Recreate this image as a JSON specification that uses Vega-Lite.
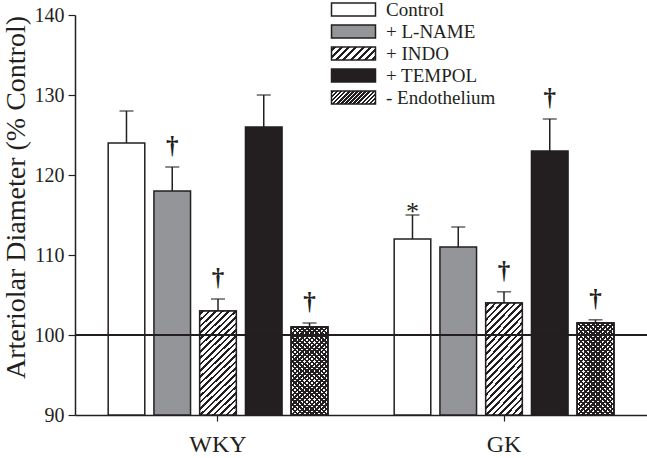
{
  "$schema": "https://vega.github.io/schema/vega-lite/v6.json",
  "width": 572,
  "height": 400,
  "autosize": {"type": "none"},
  "padding": {"left": 75, "top": 15, "right": 0, "bottom": 43},
  "config": {
    "view": {"stroke": null},
    "font": "Liberation Serif",
    "legend": {"labelFont": "Liberation Serif", "labelFontSize": 19, "labelColor": "#231f20"},
    "axis": {"labelFont": "Liberation Serif", "titleFont": "Liberation Serif", "labelColor": "#231f20", "titleColor": "#231f20", "domainColor": "#231f20", "tickColor": "#231f20", "grid": false}
  },
  "params": [
    {"name": "gradIndoLeg", "value": {"gradient": "linear", "x1": 0, "y1": 0, "x2": 1.1927, "y2": 0.3578, "stops": [
      {"offset": 0.0375, "color": "#ffffff"}, {"offset": 0.0375, "color": "#231f20"}, {"offset": 0.0875, "color": "#231f20"}, {"offset": 0.0875, "color": "#ffffff"},
      {"offset": 0.1625, "color": "#ffffff"}, {"offset": 0.1625, "color": "#231f20"}, {"offset": 0.2125, "color": "#231f20"}, {"offset": 0.2125, "color": "#ffffff"},
      {"offset": 0.2875, "color": "#ffffff"}, {"offset": 0.2875, "color": "#231f20"}, {"offset": 0.3375, "color": "#231f20"}, {"offset": 0.3375, "color": "#ffffff"},
      {"offset": 0.4125, "color": "#ffffff"}, {"offset": 0.4125, "color": "#231f20"}, {"offset": 0.4625, "color": "#231f20"}, {"offset": 0.4625, "color": "#ffffff"},
      {"offset": 0.5375, "color": "#ffffff"}, {"offset": 0.5375, "color": "#231f20"}, {"offset": 0.5875, "color": "#231f20"}, {"offset": 0.5875, "color": "#ffffff"},
      {"offset": 0.6625, "color": "#ffffff"}, {"offset": 0.6625, "color": "#231f20"}, {"offset": 0.7125, "color": "#231f20"}, {"offset": 0.7125, "color": "#ffffff"},
      {"offset": 0.7875, "color": "#ffffff"}, {"offset": 0.7875, "color": "#231f20"}, {"offset": 0.8375, "color": "#231f20"}, {"offset": 0.8375, "color": "#ffffff"},
      {"offset": 0.9125, "color": "#ffffff"}, {"offset": 0.9125, "color": "#231f20"}, {"offset": 0.9625, "color": "#231f20"}, {"offset": 0.9625, "color": "#ffffff"}
    ]}},
    {"name": "gradEndoLeg", "value": {"gradient": "linear", "x1": 0, "y1": 0, "x2": 1.1927, "y2": 0.3578, "stops": [
      {"offset": 0.0143, "color": "#ffffff"}, {"offset": 0.0143, "color": "#231f20"}, {"offset": 0.0571, "color": "#231f20"}, {"offset": 0.0571, "color": "#ffffff"},
      {"offset": 0.0857, "color": "#ffffff"}, {"offset": 0.0857, "color": "#231f20"}, {"offset": 0.1286, "color": "#231f20"}, {"offset": 0.1286, "color": "#ffffff"},
      {"offset": 0.1571, "color": "#ffffff"}, {"offset": 0.1571, "color": "#231f20"}, {"offset": 0.2000, "color": "#231f20"}, {"offset": 0.2000, "color": "#ffffff"},
      {"offset": 0.2286, "color": "#ffffff"}, {"offset": 0.2286, "color": "#231f20"}, {"offset": 0.2714, "color": "#231f20"}, {"offset": 0.2714, "color": "#ffffff"},
      {"offset": 0.3000, "color": "#ffffff"}, {"offset": 0.3000, "color": "#231f20"}, {"offset": 0.3429, "color": "#231f20"}, {"offset": 0.3429, "color": "#ffffff"},
      {"offset": 0.3714, "color": "#ffffff"}, {"offset": 0.3714, "color": "#231f20"}, {"offset": 0.4143, "color": "#231f20"}, {"offset": 0.4143, "color": "#ffffff"},
      {"offset": 0.4429, "color": "#ffffff"}, {"offset": 0.4429, "color": "#231f20"}, {"offset": 0.4857, "color": "#231f20"}, {"offset": 0.4857, "color": "#ffffff"},
      {"offset": 0.5143, "color": "#ffffff"}, {"offset": 0.5143, "color": "#231f20"}, {"offset": 0.5571, "color": "#231f20"}, {"offset": 0.5571, "color": "#ffffff"},
      {"offset": 0.5857, "color": "#ffffff"}, {"offset": 0.5857, "color": "#231f20"}, {"offset": 0.6286, "color": "#231f20"}, {"offset": 0.6286, "color": "#ffffff"},
      {"offset": 0.6571, "color": "#ffffff"}, {"offset": 0.6571, "color": "#231f20"}, {"offset": 0.7000, "color": "#231f20"}, {"offset": 0.7000, "color": "#ffffff"},
      {"offset": 0.7286, "color": "#ffffff"}, {"offset": 0.7286, "color": "#231f20"}, {"offset": 0.7714, "color": "#231f20"}, {"offset": 0.7714, "color": "#ffffff"},
      {"offset": 0.8000, "color": "#ffffff"}, {"offset": 0.8000, "color": "#231f20"}, {"offset": 0.8429, "color": "#231f20"}, {"offset": 0.8429, "color": "#ffffff"},
      {"offset": 0.8714, "color": "#ffffff"}, {"offset": 0.8714, "color": "#231f20"}, {"offset": 0.9143, "color": "#231f20"}, {"offset": 0.9143, "color": "#ffffff"},
      {"offset": 0.9429, "color": "#ffffff"}, {"offset": 0.9429, "color": "#231f20"}, {"offset": 0.9857, "color": "#231f20"}, {"offset": 0.9857, "color": "#ffffff"}
    ]}}
  ],
  "data": {
    "values": [
      {"group": "WKY", "treatment": "Control", "value": 124, "err": 128, "mark": ""},
      {"group": "WKY", "treatment": "+ L-NAME", "value": 118, "err": 121, "mark": "†"},
      {"group": "WKY", "treatment": "+ INDO", "value": 103, "err": 104.5, "mark": "†"},
      {"group": "WKY", "treatment": "+ TEMPOL", "value": 126, "err": 130, "mark": ""},
      {"group": "WKY", "treatment": "- Endothelium", "value": 101, "err": 101.5, "mark": "†"},
      {"group": "GK", "treatment": "Control", "value": 112, "err": 115, "mark": "*"},
      {"group": "GK", "treatment": "+ L-NAME", "value": 111, "err": 113.5, "mark": ""},
      {"group": "GK", "treatment": "+ INDO", "value": 104, "err": 105.4, "mark": "†"},
      {"group": "GK", "treatment": "+ TEMPOL", "value": 123, "err": 127, "mark": "†"},
      {"group": "GK", "treatment": "- Endothelium", "value": 101.5, "err": 101.9, "mark": "†"}
    ]
  },
  "layer": [
    {
      "mark": {"type": "bar", "strokeWidth": 1.5},
      "encoding": {
        "x": {"field": "group", "type": "nominal", "sort": ["WKY", "GK"], "scale": {"paddingInner": 0.2, "paddingOuter": 0.1},
          "axis": {"title": null, "labelAngle": 0, "labelFontSize": 24, "tickSize": 6, "domainWidth": 1.5, "tickWidth": 1.2, "labelPadding": 11}},
        "xOffset": {"field": "treatment", "type": "nominal", "scale": {"domain": ["Control", "+ L-NAME", "+ INDO", "+ TEMPOL", "- Endothelium"], "paddingInner": 0.2, "paddingOuter": 0.1}},
        "y": {"field": "value", "type": "quantitative", "scale": {"domain": [90, 140], "nice": false, "zero": false},
          "axis": {"title": "Arteriolar Diameter  (% Control)", "titleFontSize": 28, "titleFontWeight": "normal", "titlePadding": 4, "titleY": 182, "values": [90, 100, 110, 120, 130, 140], "labelFontSize": 20, "tickSize": 7, "labelPadding": 4, "domainWidth": 1.5, "tickWidth": 1.2}},
        "y2": {"datum": 90},
        "stroke": {"field": "treatment", "type": "nominal",
          "scale": {"domain": ["Control", "+ L-NAME", "+ INDO", "+ TEMPOL", "- Endothelium"], "range": ["#231f20", "#231f20", "#231f20", "#231f20", "#231f20"]}},
        "fill": {"field": "treatment", "type": "nominal",
          "scale": {"domain": ["Control", "+ L-NAME", "+ INDO", "+ TEMPOL", "- Endothelium"],
            "range": ["#ffffff", "#939598", {"expr": "gradIndoLeg"}, "#231f20", {"expr": "gradEndoLeg"}]},
          "legend": {"orient": "none", "legendX": 269, "legendY": -15, "title": null, "symbolType": "M-3,-0.9H3V0.9H-3Z", "symbolSize": 215, "symbolStrokeColor": "#231f20", "symbolStrokeWidth": 1.5, "labelFont": "Liberation Serif", "labelFontSize": 19, "labelColor": "#231f20", "labelOffset": 23, "rowPadding": 1, "padding": 0}
        }
      }
    },
    {
      "transform": [{"filter": "datum.treatment === '+ INDO'"}],
      "mark": {"type": "bar", "stroke": "#231f20", "strokeWidth": 1.5,
        "fill": {"gradient": "linear", "x1": 0, "y1": 0, "x2": 0.407, "y2": 1.201, "stops": [
          {"offset": 0.0136, "color": "#ffffff"}, {"offset": 0.0136, "color": "#231f20"}, {"offset": 0.0318, "color": "#231f20"}, {"offset": 0.0318, "color": "#ffffff"},
          {"offset": 0.0591, "color": "#ffffff"}, {"offset": 0.0591, "color": "#231f20"}, {"offset": 0.0773, "color": "#231f20"}, {"offset": 0.0773, "color": "#ffffff"},
          {"offset": 0.1045, "color": "#ffffff"}, {"offset": 0.1045, "color": "#231f20"}, {"offset": 0.1227, "color": "#231f20"}, {"offset": 0.1227, "color": "#ffffff"},
          {"offset": 0.1500, "color": "#ffffff"}, {"offset": 0.1500, "color": "#231f20"}, {"offset": 0.1682, "color": "#231f20"}, {"offset": 0.1682, "color": "#ffffff"},
          {"offset": 0.1955, "color": "#ffffff"}, {"offset": 0.1955, "color": "#231f20"}, {"offset": 0.2136, "color": "#231f20"}, {"offset": 0.2136, "color": "#ffffff"},
          {"offset": 0.2409, "color": "#ffffff"}, {"offset": 0.2409, "color": "#231f20"}, {"offset": 0.2591, "color": "#231f20"}, {"offset": 0.2591, "color": "#ffffff"},
          {"offset": 0.2864, "color": "#ffffff"}, {"offset": 0.2864, "color": "#231f20"}, {"offset": 0.3045, "color": "#231f20"}, {"offset": 0.3045, "color": "#ffffff"},
          {"offset": 0.3318, "color": "#ffffff"}, {"offset": 0.3318, "color": "#231f20"}, {"offset": 0.3500, "color": "#231f20"}, {"offset": 0.3500, "color": "#ffffff"},
          {"offset": 0.3773, "color": "#ffffff"}, {"offset": 0.3773, "color": "#231f20"}, {"offset": 0.3955, "color": "#231f20"}, {"offset": 0.3955, "color": "#ffffff"},
          {"offset": 0.4227, "color": "#ffffff"}, {"offset": 0.4227, "color": "#231f20"}, {"offset": 0.4409, "color": "#231f20"}, {"offset": 0.4409, "color": "#ffffff"},
          {"offset": 0.4682, "color": "#ffffff"}, {"offset": 0.4682, "color": "#231f20"}, {"offset": 0.4864, "color": "#231f20"}, {"offset": 0.4864, "color": "#ffffff"},
          {"offset": 0.5136, "color": "#ffffff"}, {"offset": 0.5136, "color": "#231f20"}, {"offset": 0.5318, "color": "#231f20"}, {"offset": 0.5318, "color": "#ffffff"},
          {"offset": 0.5591, "color": "#ffffff"}, {"offset": 0.5591, "color": "#231f20"}, {"offset": 0.5773, "color": "#231f20"}, {"offset": 0.5773, "color": "#ffffff"},
          {"offset": 0.6045, "color": "#ffffff"}, {"offset": 0.6045, "color": "#231f20"}, {"offset": 0.6227, "color": "#231f20"}, {"offset": 0.6227, "color": "#ffffff"},
          {"offset": 0.6500, "color": "#ffffff"}, {"offset": 0.6500, "color": "#231f20"}, {"offset": 0.6682, "color": "#231f20"}, {"offset": 0.6682, "color": "#ffffff"},
          {"offset": 0.6955, "color": "#ffffff"}, {"offset": 0.6955, "color": "#231f20"}, {"offset": 0.7136, "color": "#231f20"}, {"offset": 0.7136, "color": "#ffffff"},
          {"offset": 0.7409, "color": "#ffffff"}, {"offset": 0.7409, "color": "#231f20"}, {"offset": 0.7591, "color": "#231f20"}, {"offset": 0.7591, "color": "#ffffff"},
          {"offset": 0.7864, "color": "#ffffff"}, {"offset": 0.7864, "color": "#231f20"}, {"offset": 0.8045, "color": "#231f20"}, {"offset": 0.8045, "color": "#ffffff"},
          {"offset": 0.8318, "color": "#ffffff"}, {"offset": 0.8318, "color": "#231f20"}, {"offset": 0.8500, "color": "#231f20"}, {"offset": 0.8500, "color": "#ffffff"},
          {"offset": 0.8773, "color": "#ffffff"}, {"offset": 0.8773, "color": "#231f20"}, {"offset": 0.8955, "color": "#231f20"}, {"offset": 0.8955, "color": "#ffffff"},
          {"offset": 0.9227, "color": "#ffffff"}, {"offset": 0.9227, "color": "#231f20"}, {"offset": 0.9409, "color": "#231f20"}, {"offset": 0.9409, "color": "#ffffff"},
          {"offset": 0.9682, "color": "#ffffff"}, {"offset": 0.9682, "color": "#231f20"}, {"offset": 0.9864, "color": "#231f20"}, {"offset": 0.9864, "color": "#ffffff"}
        ]}},
      "encoding": {
        "x": {"field": "group", "type": "nominal", "sort": ["WKY", "GK"]},
        "xOffset": {"field": "treatment", "type": "nominal"},
        "y": {"field": "value", "type": "quantitative"},
        "y2": {"datum": 90}
      }
    },
    {
      "transform": [{"filter": "datum.treatment === '- Endothelium'"}],
      "mark": {"type": "bar", "stroke": "#231f20", "strokeWidth": 1.5,
        "fill": {"gradient": "linear", "x1": 0, "y1": 0, "x2": 0.4909, "y2": 1.2071, "stops": [
          {"offset": 0.0096, "color": "#ffffff"}, {"offset": 0.0096, "color": "#231f20"}, {"offset": 0.0288, "color": "#231f20"}, {"offset": 0.0288, "color": "#ffffff"},
          {"offset": 0.0481, "color": "#ffffff"}, {"offset": 0.0481, "color": "#231f20"}, {"offset": 0.0673, "color": "#231f20"}, {"offset": 0.0673, "color": "#ffffff"},
          {"offset": 0.0865, "color": "#ffffff"}, {"offset": 0.0865, "color": "#231f20"}, {"offset": 0.1058, "color": "#231f20"}, {"offset": 0.1058, "color": "#ffffff"},
          {"offset": 0.1250, "color": "#ffffff"}, {"offset": 0.1250, "color": "#231f20"}, {"offset": 0.1442, "color": "#231f20"}, {"offset": 0.1442, "color": "#ffffff"},
          {"offset": 0.1635, "color": "#ffffff"}, {"offset": 0.1635, "color": "#231f20"}, {"offset": 0.1827, "color": "#231f20"}, {"offset": 0.1827, "color": "#ffffff"},
          {"offset": 0.2019, "color": "#ffffff"}, {"offset": 0.2019, "color": "#231f20"}, {"offset": 0.2212, "color": "#231f20"}, {"offset": 0.2212, "color": "#ffffff"},
          {"offset": 0.2404, "color": "#ffffff"}, {"offset": 0.2404, "color": "#231f20"}, {"offset": 0.2596, "color": "#231f20"}, {"offset": 0.2596, "color": "#ffffff"},
          {"offset": 0.2788, "color": "#ffffff"}, {"offset": 0.2788, "color": "#231f20"}, {"offset": 0.2981, "color": "#231f20"}, {"offset": 0.2981, "color": "#ffffff"},
          {"offset": 0.3173, "color": "#ffffff"}, {"offset": 0.3173, "color": "#231f20"}, {"offset": 0.3365, "color": "#231f20"}, {"offset": 0.3365, "color": "#ffffff"},
          {"offset": 0.3558, "color": "#ffffff"}, {"offset": 0.3558, "color": "#231f20"}, {"offset": 0.3750, "color": "#231f20"}, {"offset": 0.3750, "color": "#ffffff"},
          {"offset": 0.3942, "color": "#ffffff"}, {"offset": 0.3942, "color": "#231f20"}, {"offset": 0.4135, "color": "#231f20"}, {"offset": 0.4135, "color": "#ffffff"},
          {"offset": 0.4327, "color": "#ffffff"}, {"offset": 0.4327, "color": "#231f20"}, {"offset": 0.4519, "color": "#231f20"}, {"offset": 0.4519, "color": "#ffffff"},
          {"offset": 0.4712, "color": "#ffffff"}, {"offset": 0.4712, "color": "#231f20"}, {"offset": 0.4904, "color": "#231f20"}, {"offset": 0.4904, "color": "#ffffff"},
          {"offset": 0.5096, "color": "#ffffff"}, {"offset": 0.5096, "color": "#231f20"}, {"offset": 0.5288, "color": "#231f20"}, {"offset": 0.5288, "color": "#ffffff"},
          {"offset": 0.5481, "color": "#ffffff"}, {"offset": 0.5481, "color": "#231f20"}, {"offset": 0.5673, "color": "#231f20"}, {"offset": 0.5673, "color": "#ffffff"},
          {"offset": 0.5865, "color": "#ffffff"}, {"offset": 0.5865, "color": "#231f20"}, {"offset": 0.6058, "color": "#231f20"}, {"offset": 0.6058, "color": "#ffffff"},
          {"offset": 0.6250, "color": "#ffffff"}, {"offset": 0.6250, "color": "#231f20"}, {"offset": 0.6442, "color": "#231f20"}, {"offset": 0.6442, "color": "#ffffff"},
          {"offset": 0.6635, "color": "#ffffff"}, {"offset": 0.6635, "color": "#231f20"}, {"offset": 0.6827, "color": "#231f20"}, {"offset": 0.6827, "color": "#ffffff"},
          {"offset": 0.7019, "color": "#ffffff"}, {"offset": 0.7019, "color": "#231f20"}, {"offset": 0.7212, "color": "#231f20"}, {"offset": 0.7212, "color": "#ffffff"},
          {"offset": 0.7404, "color": "#ffffff"}, {"offset": 0.7404, "color": "#231f20"}, {"offset": 0.7596, "color": "#231f20"}, {"offset": 0.7596, "color": "#ffffff"},
          {"offset": 0.7788, "color": "#ffffff"}, {"offset": 0.7788, "color": "#231f20"}, {"offset": 0.7981, "color": "#231f20"}, {"offset": 0.7981, "color": "#ffffff"},
          {"offset": 0.8173, "color": "#ffffff"}, {"offset": 0.8173, "color": "#231f20"}, {"offset": 0.8365, "color": "#231f20"}, {"offset": 0.8365, "color": "#ffffff"},
          {"offset": 0.8558, "color": "#ffffff"}, {"offset": 0.8558, "color": "#231f20"}, {"offset": 0.8750, "color": "#231f20"}, {"offset": 0.8750, "color": "#ffffff"},
          {"offset": 0.8942, "color": "#ffffff"}, {"offset": 0.8942, "color": "#231f20"}, {"offset": 0.9135, "color": "#231f20"}, {"offset": 0.9135, "color": "#ffffff"},
          {"offset": 0.9327, "color": "#ffffff"}, {"offset": 0.9327, "color": "#231f20"}, {"offset": 0.9519, "color": "#231f20"}, {"offset": 0.9519, "color": "#ffffff"},
          {"offset": 0.9712, "color": "#ffffff"}, {"offset": 0.9712, "color": "#231f20"}, {"offset": 0.9904, "color": "#231f20"}, {"offset": 0.9904, "color": "#ffffff"}
        ]}},
      "encoding": {
        "x": {"field": "group", "type": "nominal", "sort": ["WKY", "GK"]},
        "xOffset": {"field": "treatment", "type": "nominal"},
        "y": {"field": "value", "type": "quantitative"},
        "y2": {"datum": 90}
      }
    },
    {
      "transform": [{"filter": "datum.treatment === '- Endothelium'"}],
      "mark": {"type": "bar", "stroke": "#231f20", "strokeWidth": 1.5,
        "fill": {"gradient": "linear", "x1": 0, "y1": 1, "x2": 0.4909, "y2": -0.2071, "stops": [
          {"offset": 0.0096, "color": "rgba(35,31,32,0)"}, {"offset": 0.0096, "color": "#231f20"}, {"offset": 0.0288, "color": "#231f20"}, {"offset": 0.0288, "color": "rgba(35,31,32,0)"},
          {"offset": 0.0481, "color": "rgba(35,31,32,0)"}, {"offset": 0.0481, "color": "#231f20"}, {"offset": 0.0673, "color": "#231f20"}, {"offset": 0.0673, "color": "rgba(35,31,32,0)"},
          {"offset": 0.0865, "color": "rgba(35,31,32,0)"}, {"offset": 0.0865, "color": "#231f20"}, {"offset": 0.1058, "color": "#231f20"}, {"offset": 0.1058, "color": "rgba(35,31,32,0)"},
          {"offset": 0.1250, "color": "rgba(35,31,32,0)"}, {"offset": 0.1250, "color": "#231f20"}, {"offset": 0.1442, "color": "#231f20"}, {"offset": 0.1442, "color": "rgba(35,31,32,0)"},
          {"offset": 0.1635, "color": "rgba(35,31,32,0)"}, {"offset": 0.1635, "color": "#231f20"}, {"offset": 0.1827, "color": "#231f20"}, {"offset": 0.1827, "color": "rgba(35,31,32,0)"},
          {"offset": 0.2019, "color": "rgba(35,31,32,0)"}, {"offset": 0.2019, "color": "#231f20"}, {"offset": 0.2212, "color": "#231f20"}, {"offset": 0.2212, "color": "rgba(35,31,32,0)"},
          {"offset": 0.2404, "color": "rgba(35,31,32,0)"}, {"offset": 0.2404, "color": "#231f20"}, {"offset": 0.2596, "color": "#231f20"}, {"offset": 0.2596, "color": "rgba(35,31,32,0)"},
          {"offset": 0.2788, "color": "rgba(35,31,32,0)"}, {"offset": 0.2788, "color": "#231f20"}, {"offset": 0.2981, "color": "#231f20"}, {"offset": 0.2981, "color": "rgba(35,31,32,0)"},
          {"offset": 0.3173, "color": "rgba(35,31,32,0)"}, {"offset": 0.3173, "color": "#231f20"}, {"offset": 0.3365, "color": "#231f20"}, {"offset": 0.3365, "color": "rgba(35,31,32,0)"},
          {"offset": 0.3558, "color": "rgba(35,31,32,0)"}, {"offset": 0.3558, "color": "#231f20"}, {"offset": 0.3750, "color": "#231f20"}, {"offset": 0.3750, "color": "rgba(35,31,32,0)"},
          {"offset": 0.3942, "color": "rgba(35,31,32,0)"}, {"offset": 0.3942, "color": "#231f20"}, {"offset": 0.4135, "color": "#231f20"}, {"offset": 0.4135, "color": "rgba(35,31,32,0)"},
          {"offset": 0.4327, "color": "rgba(35,31,32,0)"}, {"offset": 0.4327, "color": "#231f20"}, {"offset": 0.4519, "color": "#231f20"}, {"offset": 0.4519, "color": "rgba(35,31,32,0)"},
          {"offset": 0.4712, "color": "rgba(35,31,32,0)"}, {"offset": 0.4712, "color": "#231f20"}, {"offset": 0.4904, "color": "#231f20"}, {"offset": 0.4904, "color": "rgba(35,31,32,0)"},
          {"offset": 0.5096, "color": "rgba(35,31,32,0)"}, {"offset": 0.5096, "color": "#231f20"}, {"offset": 0.5288, "color": "#231f20"}, {"offset": 0.5288, "color": "rgba(35,31,32,0)"},
          {"offset": 0.5481, "color": "rgba(35,31,32,0)"}, {"offset": 0.5481, "color": "#231f20"}, {"offset": 0.5673, "color": "#231f20"}, {"offset": 0.5673, "color": "rgba(35,31,32,0)"},
          {"offset": 0.5865, "color": "rgba(35,31,32,0)"}, {"offset": 0.5865, "color": "#231f20"}, {"offset": 0.6058, "color": "#231f20"}, {"offset": 0.6058, "color": "rgba(35,31,32,0)"},
          {"offset": 0.6250, "color": "rgba(35,31,32,0)"}, {"offset": 0.6250, "color": "#231f20"}, {"offset": 0.6442, "color": "#231f20"}, {"offset": 0.6442, "color": "rgba(35,31,32,0)"},
          {"offset": 0.6635, "color": "rgba(35,31,32,0)"}, {"offset": 0.6635, "color": "#231f20"}, {"offset": 0.6827, "color": "#231f20"}, {"offset": 0.6827, "color": "rgba(35,31,32,0)"},
          {"offset": 0.7019, "color": "rgba(35,31,32,0)"}, {"offset": 0.7019, "color": "#231f20"}, {"offset": 0.7212, "color": "#231f20"}, {"offset": 0.7212, "color": "rgba(35,31,32,0)"},
          {"offset": 0.7404, "color": "rgba(35,31,32,0)"}, {"offset": 0.7404, "color": "#231f20"}, {"offset": 0.7596, "color": "#231f20"}, {"offset": 0.7596, "color": "rgba(35,31,32,0)"},
          {"offset": 0.7788, "color": "rgba(35,31,32,0)"}, {"offset": 0.7788, "color": "#231f20"}, {"offset": 0.7981, "color": "#231f20"}, {"offset": 0.7981, "color": "rgba(35,31,32,0)"},
          {"offset": 0.8173, "color": "rgba(35,31,32,0)"}, {"offset": 0.8173, "color": "#231f20"}, {"offset": 0.8365, "color": "#231f20"}, {"offset": 0.8365, "color": "rgba(35,31,32,0)"},
          {"offset": 0.8558, "color": "rgba(35,31,32,0)"}, {"offset": 0.8558, "color": "#231f20"}, {"offset": 0.8750, "color": "#231f20"}, {"offset": 0.8750, "color": "rgba(35,31,32,0)"},
          {"offset": 0.8942, "color": "rgba(35,31,32,0)"}, {"offset": 0.8942, "color": "#231f20"}, {"offset": 0.9135, "color": "#231f20"}, {"offset": 0.9135, "color": "rgba(35,31,32,0)"},
          {"offset": 0.9327, "color": "rgba(35,31,32,0)"}, {"offset": 0.9327, "color": "#231f20"}, {"offset": 0.9519, "color": "#231f20"}, {"offset": 0.9519, "color": "rgba(35,31,32,0)"},
          {"offset": 0.9712, "color": "rgba(35,31,32,0)"}, {"offset": 0.9712, "color": "#231f20"}, {"offset": 0.9904, "color": "#231f20"}, {"offset": 0.9904, "color": "rgba(35,31,32,0)"}
        ]}},
      "encoding": {
        "x": {"field": "group", "type": "nominal", "sort": ["WKY", "GK"]},
        "xOffset": {"field": "treatment", "type": "nominal"},
        "y": {"field": "value", "type": "quantitative"},
        "y2": {"datum": 90}
      }
    },
    {
      "mark": {"type": "rule", "color": "#231f20", "strokeWidth": 1.5},
      "encoding": {
        "x": {"field": "group", "type": "nominal", "sort": ["WKY", "GK"]},
        "xOffset": {"field": "treatment", "type": "nominal"},
        "y": {"field": "value", "type": "quantitative"},
        "y2": {"field": "err"}
      }
    },
    {
      "mark": {"type": "tick", "color": "#231f20", "thickness": 1.5, "size": 14, "orient": "horizontal"},
      "encoding": {
        "x": {"field": "group", "type": "nominal", "sort": ["WKY", "GK"]},
        "xOffset": {"field": "treatment", "type": "nominal"},
        "y": {"field": "err", "type": "quantitative"}
      }
    },
    {
      "mark": {"type": "rule", "color": "#231f20", "strokeWidth": 1},
      "encoding": {"y": {"datum": 100}}
    },
    {
      "transform": [{"filter": "datum.mark === '†'"}],
      "mark": {"type": "text", "font": "Liberation Serif", "fontSize": 25, "fontWeight": "bold", "color": "#231f20", "baseline": "alphabetic", "dy": -13},
      "encoding": {
        "x": {"field": "group", "type": "nominal", "sort": ["WKY", "GK"]},
        "xOffset": {"field": "treatment", "type": "nominal"},
        "y": {"field": "err", "type": "quantitative"},
        "text": {"field": "mark"}
      }
    },
    {
      "transform": [{"filter": "datum.mark === '*'"}],
      "mark": {"type": "text", "font": "Liberation Serif", "fontSize": 26, "color": "#231f20", "baseline": "alphabetic", "dy": 5},
      "encoding": {
        "x": {"field": "group", "type": "nominal", "sort": ["WKY", "GK"]},
        "xOffset": {"field": "treatment", "type": "nominal"},
        "y": {"field": "err", "type": "quantitative"},
        "text": {"field": "mark"}
      }
    }
  ]
}
